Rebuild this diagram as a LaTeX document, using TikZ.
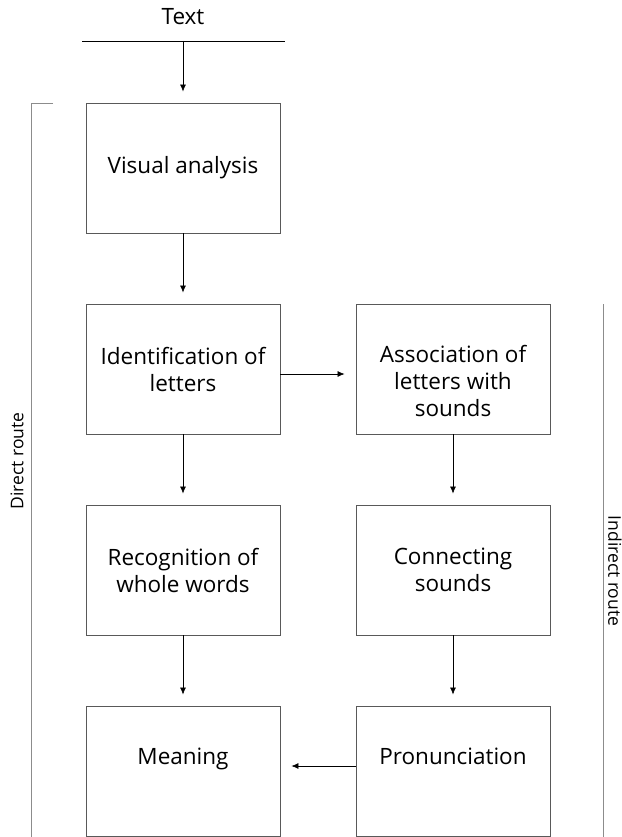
\documentclass[tikz,border=0pt]{standalone}
\usepackage{fontspec}
\setmainfont{Open Sans}
\usetikzlibrary{arrows.meta}

\begin{document}
\begin{tikzpicture}[
    x=1pt, y=-1pt,
    stage/.style={rectangle, draw=black!65, line width=0.9pt, minimum width=194pt, minimum height=130pt, align=center, inner sep=0pt, font=\fontsize{22.5}{27}\selectfont},
    lowstage/.style={stage, text depth=30pt},
    arrow/.style={-{Latex[length=7pt,width=6pt]}, line width=0.7pt, shorten >=11pt},
    route/.style={draw=black!45, line width=0.9pt}
]
    \useasboundingbox (0,0) rectangle (621,837);

    % Eingang
    \node[font=\fontsize{22.5}{27}\selectfont] (text) at (183,17) {Text};
    \coordinate (bar-l) at (82,41);
    \coordinate (bar-r) at (285,41);
    \coordinate (bar) at (183,41);
    \draw[line width=0.7pt] (bar-l) -- (bar-r);

    % Stufen
    \node[stage] (visual) at (183,168) {Visual analysis};
    \node[stage] (ident) at (183,369) {Identification of\\letters};
    \node[stage, text height=96pt] (assoc) at (453,369) {Association of\\letters with\\sounds};
    \node[stage] (recog) at (183,570) {Recognition of\\whole words};
    \node[stage] (connect) at (453,570) {Connecting\\sounds};
    \node[lowstage] (meaning) at (183,771) {Meaning};
    \node[lowstage] (pron) at (453,771) {Pronunciation};

    % Pfeile
    \draw[arrow] (bar) -- (visual);
    \draw[arrow] (visual) -- (ident);
    \draw[arrow] (ident.east |- 0,374) -- (assoc.west |- 0,374);
    \draw[arrow] (ident) -- (recog);
    \draw[arrow] (assoc) -- (connect);
    \draw[arrow] (recog) -- (meaning);
    \draw[arrow] (connect) -- (pron);
    \draw[arrow] (pron.west |- 0,766) -- (meaning.east |- 0,766);

    % Routen
    \coordinate (direct-tick) at (53,103);
    \coordinate (direct-top) at (31,103);
    \coordinate (direct-end) at (31,837);
    \draw[route] (direct-tick) -- (direct-top) -- (direct-end);
    \node[rotate=90, font=\fontsize{17.5}{20}\selectfont] (direct) at (17,461) {Direct route};
    \coordinate (indirect-top) at (603,304);
    \coordinate (indirect-end) at (603,837);
    \draw[route] (indirect-top) -- (indirect-end);
    \node[rotate=-90, font=\fontsize{17.5}{20}\selectfont] (indirect) at (615,571) {Indirect route};
\end{tikzpicture}
\end{document}
